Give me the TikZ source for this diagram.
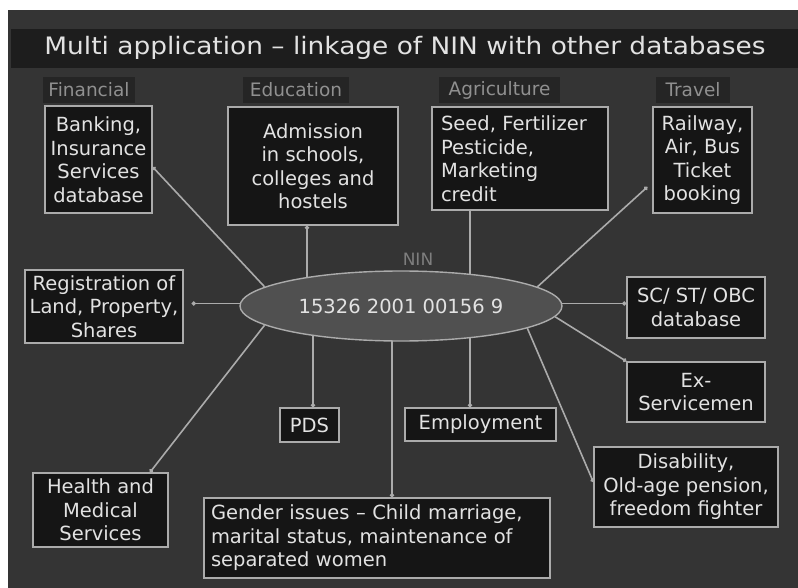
\documentclass[tikz,border=0pt]{standalone}
\usepackage{fontspec}
\setmainfont{DejaVu Sans}
\newfontfamily\titlefont[FakeStretch=1.1]{DejaVu Sans}
\usetikzlibrary{arrows.meta,shapes.geometric}
\definecolor{bgc}{HTML}{343434}
\definecolor{bandc}{HTML}{1D1D1D}
\definecolor{boxc}{HTML}{151515}
\definecolor{labc}{HTML}{252525}
\definecolor{edgec}{HTML}{ABABAB}
\definecolor{txtc}{HTML}{E2E2E2}
\definecolor{cattxt}{HTML}{909090}
\definecolor{ellc}{HTML}{505050}
\pgfdeclarelayer{back}
\pgfdeclarelayer{lines}
\pgfsetlayers{back,lines,main}
\tikzset{
  infobox/.style={draw=edgec, line width=1.4pt, fill=boxc, text=txtc, inner sep=0pt,
    font=\fontsize{19.5}{23.5}\selectfont, align=center},
  catlabel/.style={fill=labc, text=cattxt, inner sep=0pt, minimum height=26pt,
    font=\fontsize{18.5}{22}\selectfont},
  link/.style={draw=edgec, line width=1.6pt, {Circle[length=4pt]}-},
  plainlink/.style={draw=edgec, line width=1.6pt}
}
\begin{document}
\begin{tikzpicture}[x=1pt,y=-1pt]
\useasboundingbox (0,0) rectangle (798,588);
\begin{pgfonlayer}{back}
  \fill[white] (0,0) rectangle (798,588);
  \fill[bgc] (8,10) rectangle (798,588);
  \fill[bandc] (11,29) rectangle (798,68);
\end{pgfonlayer}
\node[text=txtc, font=\titlefont\fontsize{24}{28}\selectfont] (title) at (405,48) {Multi application – linkage of NIN with other databases};

% category labels
\node[catlabel, minimum width=92pt] (cfin) at (89,90) {Financial};
\node[catlabel, minimum width=106pt] (cedu) at (296,90) {Education};
\node[catlabel, minimum width=121pt] (cagr) at (499.5,90) {Agriculture};
\node[catlabel, minimum width=74pt] (ctrv) at (693,90) {Travel};

% boxes
\node[infobox, minimum width=107pt, minimum height=107pt] (fin) at (98.5,159.5) {Banking,\\Insurance\\Services\\database};
\node[infobox, minimum width=170pt, minimum height=118pt] (edu) at (313,166) {Admission\\in schools,\\colleges and\\hostels};
\node[infobox, minimum width=176pt, minimum height=103pt, text width=158pt, align=left, inner xsep=9pt] (agr) at (520,158.5) {Seed, Fertilizer\\Pesticide,\\Marketing\\credit};
\node[infobox, minimum width=99pt, minimum height=106pt] (trv) at (702.5,160) {Railway,\\Air, Bus\\Ticket\\booking};
\node[infobox, minimum width=158pt, minimum height=73pt] (reg) at (104,306.5) {Registration of\\Land, Property,\\Shares};
\node[infobox, minimum width=138pt, minimum height=61pt] (sc) at (696,307.5) {SC/ ST/ OBC\\database};
\node[infobox, minimum width=138pt, minimum height=60pt] (ex) at (696,392) {Ex-\\Servicemen};
\node[infobox, minimum width=59pt, minimum height=34pt] (pds) at (309.5,425) {PDS};
\node[infobox, minimum width=151pt, minimum height=33pt] (emp) at (480.5,424.5) {Employment};
\node[infobox, minimum width=135pt, minimum height=74pt] (hea) at (100.5,510) {Health and\\Medical\\Services};
\node[infobox, minimum width=346pt, minimum height=80pt, text width=332pt, align=left, inner xsep=7pt] (gen) at (377,538) {Gender issues – Child marriage,\\marital status, maintenance of\\separated women};
\node[infobox, minimum width=184pt, minimum height=80pt] (dis) at (686,487) {Disability,\\Old-age pension,\\freedom fighter};

% central ellipse
\node[ellipse, draw=edgec, line width=1.4pt, fill=ellc, minimum width=322pt, minimum height=70pt, inner sep=0pt, text=txtc, font=\fontsize{19.5}{23.5}\selectfont] (ell) at (401,306) {15326 2001 00156 9};
\node[text=cattxt!80!bgc, font=\fontsize{17}{20}\selectfont] (nin) at (418,259) {NIN};

% connectors
\begin{pgfonlayer}{lines}
  \draw[link] ([yshift=-7.5pt]fin.east) -- (ell.172);
  \draw[link] ([xshift=-6pt]edu.south) coordinate (e1) -- (e1 |- ell.center);
  \draw[plainlink] ([xshift=-50pt]agr.south) coordinate (a1) -- (a1 |- ell.center);
  \draw[link] ([xshift=-5pt,yshift=-27pt]trv.west) -- (ell.8);
  \draw[link] ([xshift=8pt,yshift=3pt]reg.east) coordinate (r1) -- (r1 -| ell.center);
  \draw[link] ([yshift=4pt]sc.west) coordinate (s1) -- (s1 -| ell.center);
  \draw[link] (ex.north west) -- (ell.-4);
  \draw[link] ([yshift=5pt]dis.west) -- (ell.-10);
  \draw[link] ([xshift=-10.5pt]emp.north) coordinate (m1) -- (m1 |- ell.center);
  \draw[link] ([xshift=15pt]gen.north) coordinate (g1) -- (g1 |- ell.center);
  \draw[link] ([xshift=3.5pt]pds.north) coordinate (p1) -- (p1 |- ell.center);
  \draw[link] ([xshift=49.5pt]hea.north) -- (ell.188.5);
\end{pgfonlayer}
\end{tikzpicture}
\end{document}
